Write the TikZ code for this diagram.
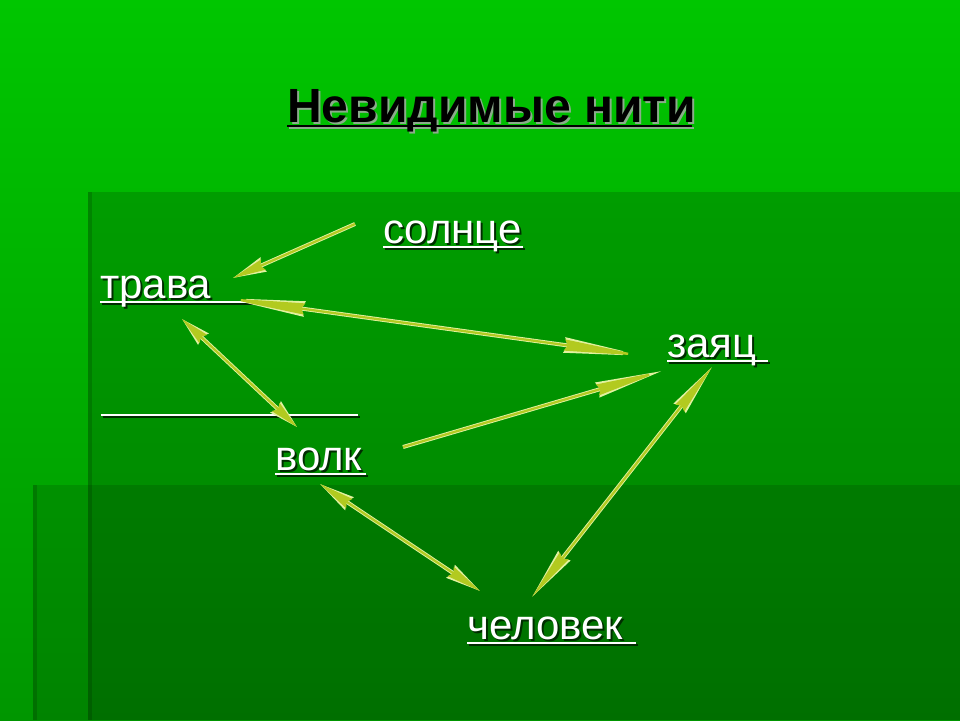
\documentclass[tikz,border=0pt]{standalone}
\usepackage{fontspec}
\setmainfont{Liberation Sans}
\usepackage{tikz}
\usetikzlibrary{calc,arrows.meta}

\definecolor{bgtop}{RGB}{0,198,0}
\definecolor{bgbottom}{RGB}{0,150,0}
\definecolor{threadcore}{RGB}{178,202,32}
\definecolor{threadrim}{RGB}{226,242,160}
\definecolor{wordshadow}{RGB}{0,45,0}
\definecolor{titleshadow}{RGB}{140,172,140}

% text with a drop shadow: shadow colour, text colour, content
\newcommand\shadowed[3]{\rlap{\kern2pt\raisebox{-2pt}{\color{#1}#3}}{\color{#2}#3}}
% text with an underline of a given length (in pt)
\newcommand\ulbox[2]{\rlap{\rule[-4.5pt]{#2pt}{2pt}}#1}

\tikzset{
  word/.style={anchor=base west, inner sep=0pt, font=\fontsize{42}{50}\selectfont},
  title/.style={anchor=base west, inner sep=0pt, font=\bfseries\fontsize{48}{56}\selectfont},
  rimline/.style={draw=threadrim, line width=4pt, >={Stealth[length=#1pt, width=15pt, inset=3pt]}},
  coreline/.style={draw=threadcore, line width=2.2pt, >={Stealth[length=#1pt, width=11pt, inset=3pt]}},
}
% a thread: tips, head length, from, to
\newcommand\thread[4]{%
  \draw[rimline=#2, #1] #3 -- #4;
  \draw[coreline=#2, #1] #3 -- #4;
}

\begin{document}
\begin{tikzpicture}[x=1pt, y=-1pt]
    \useasboundingbox (0,0) rectangle (960,720);
    % background and panels
    \fill[top color=bgtop, bottom color=bgbottom] (0,0) rectangle (960,720);
    \fill[black, opacity=0.15] (88,192) rectangle (960,720);
    \fill[black, opacity=0.12] (33,485) rectangle (960,720);
    \fill[black, opacity=0.15] (88,192) rectangle (92,720);
    \fill[black, opacity=0.15] (33,485) rectangle (37,720);

    \node[title] (title) at (287,122) {\shadowed{titleshadow}{black}{\ulbox{Невидимые нити}{405}}};

    \node[word] (sun) at (383,243) {\shadowed{wordshadow}{white}{\ulbox{солнце}{140}}};
    \node[word] (grass) at (100,298) {\shadowed{wordshadow}{white}{\ulbox{трава}{158}}};
    \node[word] (hare) at (667,357) {\shadowed{wordshadow}{white}{\ulbox{заяц}{101}}};
    \node[word] (blank) at (100,411) {\shadowed{wordshadow}{white}{\ulbox{}{257}}};
    \node[word] (wolf) at (275,470) {\shadowed{wordshadow}{white}{\ulbox{волк}{91}}};
    \node[word] (human) at (467,639) {\shadowed{wordshadow}{white}{\ulbox{человек}{169}}};

    % threads
    \thread{->}{33}{($(sun.base west)+(-28,-19)$)}{($(grass.base west)+(133,-20)$)}
    \thread{<->}{80}{($(grass.base west)+(125,0)$)}{($(hare.base west)+(-23,-1)$)}
    \thread{<->}{29}{($(grass.base west)+(82,21)$)}{($(wolf.base west)+(22,-43)$)}
    \thread{->}{67}{($(wolf.base west)+(128,-23)$)}{($(hare.base west)+(-5,14)$)}
    \thread{<->}{52}{($(hare.base west)+(45,10)$)}{($(human.base west)+(65,-42)$)}
    \thread{<->}{35}{($(wolf.base west)+(45,14)$)}{($(human.base west)+(13,-48)$)}
\end{tikzpicture}
\end{document}
